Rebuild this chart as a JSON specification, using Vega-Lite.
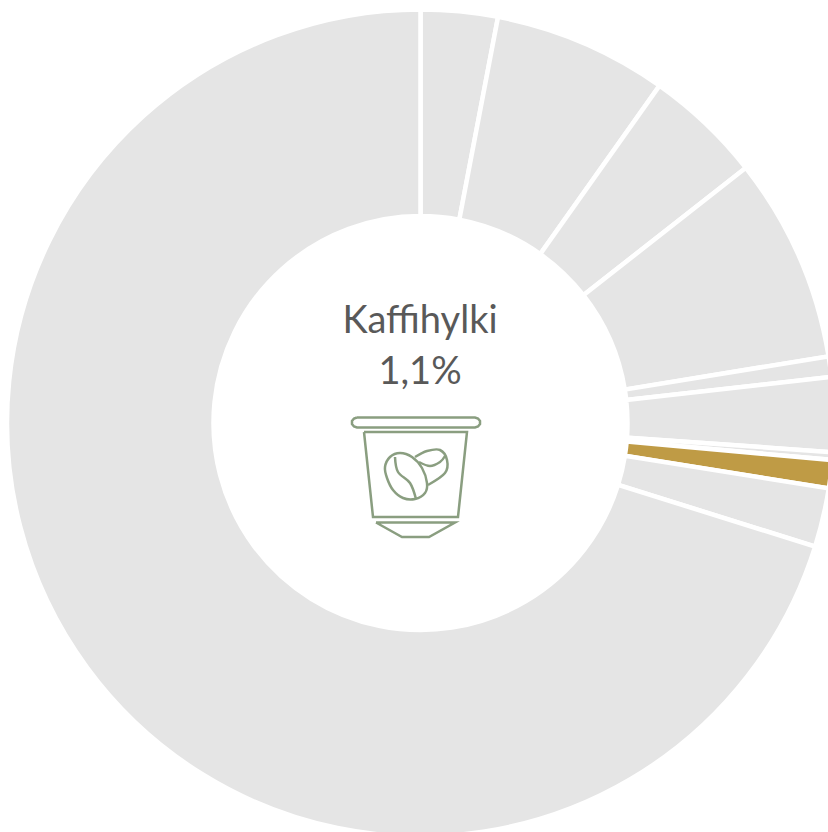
{
"$schema":"https://vega.github.io/schema/vega-lite/v6.json",
"width":828,"height":832,"padding":0,"autosize":{"type":"none"},
"background":"white","view":{"stroke":null},
"datasets":{
"slices":[
{"seq":1,"name":"Osa 1","value":3.0,"kind":"muu"},
{"seq":2,"name":"Osa 2","value":6.8,"kind":"muu"},
{"seq":3,"name":"Osa 3","value":4.6,"kind":"muu"},
{"seq":4,"name":"Osa 4","value":8.0,"kind":"muu"},
{"seq":5,"name":"Osa 5","value":0.8,"kind":"muu"},
{"seq":6,"name":"Osa 6","value":2.9,"kind":"muu"},
{"seq":7,"name":"Osa 7","value":0.3,"kind":"muu"},
{"seq":8,"name":"Kaffihylki","value":1.1,"kind":"Kaffihylki"},
{"seq":9,"name":"Osa 9","value":2.3,"kind":"muu"},
{"seq":10,"name":"Osa 10","value":70.1,"kind":"muu"}],
"labels":[{"label":"Kaffihylki","cx":420,"cy":333},{"label":"1,1%","cx":420,"cy":384}],
"straight":[
{"g":"rim","o":1,"px":357,"py":417.5},{"g":"rim","o":2,"px":475,"py":417.5},{"g":"rim","o":3,"px":478,"py":418.5},{"g":"rim","o":4,"px":480,"py":421},{"g":"rim","o":5,"px":480,"py":424},{"g":"rim","o":6,"px":478,"py":426.5},{"g":"rim","o":7,"px":475,"py":427.5},{"g":"rim","o":8,"px":357,"py":427.5},{"g":"rim","o":9,"px":354,"py":426.5},{"g":"rim","o":10,"px":352,"py":424},{"g":"rim","o":11,"px":352,"py":421},{"g":"rim","o":12,"px":354,"py":418.5},{"g":"rim","o":13,"px":357,"py":417.5},
{"g":"body","o":1,"px":364,"py":432},{"g":"body","o":2,"px":467,"py":432},{"g":"body","o":3,"px":458,"py":517},{"g":"body","o":4,"px":373,"py":517},{"g":"body","o":5,"px":364,"py":432},
{"g":"foot","o":1,"px":376,"py":522.5},{"g":"foot","o":2,"px":455,"py":522.5},{"g":"foot","o":3,"px":429,"py":537},{"g":"foot","o":4,"px":402,"py":537},{"g":"foot","o":5,"px":376,"py":522.5}],
"closedBean":[
{"g":"big","o":1,"px":385,"py":467},{"g":"big","o":2,"px":390,"py":457},{"g":"big","o":3,"px":400,"py":453},{"g":"big","o":4,"px":412,"py":457},{"g":"big","o":5,"px":422,"py":468},{"g":"big","o":6,"px":427,"py":483},{"g":"big","o":7,"px":425,"py":493},{"g":"big","o":8,"px":415,"py":499},{"g":"big","o":9,"px":403,"py":498},{"g":"big","o":10,"px":393,"py":490},{"g":"big","o":11,"px":387,"py":478}],
"openBean":[
{"g":"crease","o":1,"px":395,"py":457},{"g":"crease","o":2,"px":398,"py":472},{"g":"crease","o":3,"px":410,"py":483},{"g":"crease","o":4,"px":416,"py":499},
{"g":"small","o":1,"px":415,"py":457},{"g":"small","o":2,"px":427,"py":451},{"g":"small","o":3,"px":440,"py":450},{"g":"small","o":4,"px":447,"py":460},{"g":"small","o":5,"px":445,"py":473},{"g":"small","o":6,"px":428,"py":485},
{"g":"crease2","o":1,"px":419,"py":462},{"g":"crease2","o":2,"px":430,"py":466},{"g":"crease2","o":3,"px":440,"py":462},{"g":"crease2","o":4,"px":445,"py":456}]
},
"layer":[
{"data":{"name":"slices"},
 "mark":{"type":"arc","radius":413.5,"radius2":207,"stroke":"white","strokeWidth":4.5},
 "encoding":{
  "x":{"datum":420.5,"type":"quantitative","scale":{"domain":[0,828]},"axis":null},
  "y":{"datum":423,"type":"quantitative","scale":{"domain":[832,0]},"axis":null},
  "theta":{"field":"value","type":"quantitative","stack":true},
  "order":{"field":"seq","type":"quantitative"},
  "color":{"field":"kind","type":"nominal","scale":{"domain":["muu","Kaffihylki"],"range":["#e5e5e5","#bf9b45"]},"legend":null}}},
{"data":{"name":"labels"},
 "mark":{"type":"text","font":"Lato","fontSize":38,"color":"#595959","align":"center","baseline":"alphabetic"},
 "encoding":{
  "x":{"field":"cx","type":"quantitative","scale":{"domain":[0,828]},"axis":null},
  "y":{"field":"cy","type":"quantitative","scale":{"domain":[832,0]},"axis":null},
  "text":{"field":"label"}}},
{"data":{"name":"straight"},
 "mark":{"type":"line","stroke":"#8a9e80","strokeWidth":2.5,"interpolate":"linear"},
 "encoding":{
  "x":{"field":"px","type":"quantitative","scale":{"domain":[0,828]},"axis":null},
  "y":{"field":"py","type":"quantitative","scale":{"domain":[832,0]},"axis":null},
  "detail":{"field":"g"},"order":{"field":"o","type":"quantitative"}}},
{"data":{"name":"closedBean"},
 "mark":{"type":"line","stroke":"#8a9e80","strokeWidth":2.5,"interpolate":"cardinal-closed"},
 "encoding":{
  "x":{"field":"px","type":"quantitative","scale":{"domain":[0,828]},"axis":null},
  "y":{"field":"py","type":"quantitative","scale":{"domain":[832,0]},"axis":null},
  "detail":{"field":"g"},"order":{"field":"o","type":"quantitative"}}},
{"data":{"name":"openBean"},
 "mark":{"type":"line","stroke":"#8a9e80","strokeWidth":2.5,"interpolate":"cardinal"},
 "encoding":{
  "x":{"field":"px","type":"quantitative","scale":{"domain":[0,828]},"axis":null},
  "y":{"field":"py","type":"quantitative","scale":{"domain":[832,0]},"axis":null},
  "detail":{"field":"g"},"order":{"field":"o","type":"quantitative"}}}
]
}
